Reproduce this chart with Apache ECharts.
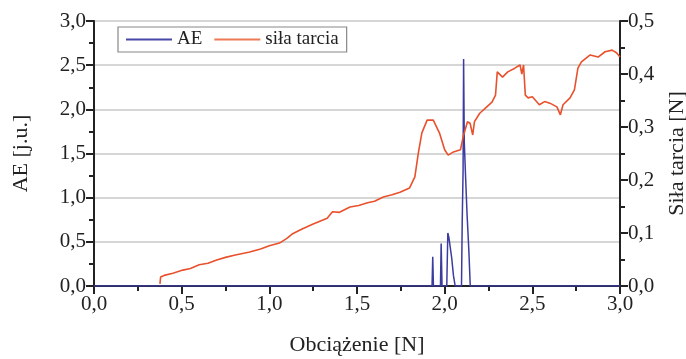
<!DOCTYPE html>
<html>
<head>
<meta charset="utf-8">
<script src="https://cdn.jsdelivr.net/npm/echarts@6/dist/echarts.min.js"></script>
<style>
  html, body { margin: 0; padding: 0; background: #fff; }
  #chart { width: 686px; height: 359px; }
</style>
</head>
<body>
<div id="chart"></div>
<script>
// AE (lewa oś) – obciążenie [N] / AE [j.u.]
const aeLoad = [0, 1.928, 1.932, 1.936, 1.976, 1.98, 1.985, 2.012, 2.018, 2.024, 2.03, 2.04, 2.05, 2.06, 2.096, 2.1, 2.105, 2.108, 2.112, 2.116, 2.12, 2.128, 2.138, 2.146, 3]
const aeValue = [0, 0, 0.33, 0, 0, 0.48, 0, 0, 0.6, 0.55, 0.57, 0.32, 0.12, 0, 0, 0.72, 1.3, 2.57, 1.62, 1.64, 1.2, 0.8, 0.4, 0, 0]

// siła tarcia (prawa oś) [N]
const frLoad = [0.376, 0.38, 0.40, 0.45, 0.507, 0.55, 0.60, 0.65, 0.70, 0.75, 0.80, 0.888, 0.95, 1.0, 1.058, 1.10, 1.13, 1.19, 1.25, 1.33, 1.36, 1.40, 1.46, 1.51, 1.56, 1.60, 1.65, 1.70, 1.745, 1.80, 1.83, 1.85, 1.87, 1.90, 1.935, 1.97, 2.0, 2.02, 2.05, 2.09, 2.105, 2.13, 2.145, 2.16, 2.17, 2.2, 2.24, 2.27, 2.29, 2.30, 2.33, 2.36, 2.40, 2.43, 2.44, 2.45, 2.46, 2.476, 2.50, 2.54, 2.57, 2.60, 2.64, 2.66, 2.675, 2.715, 2.74, 2.76, 2.78, 2.83, 2.875, 2.915, 2.955, 2.98, 3.0]
const frValue = [0.004, 0.017, 0.02, 0.024, 0.030, 0.033, 0.040, 0.043, 0.049, 0.054, 0.058, 0.064, 0.070, 0.076, 0.081, 0.090, 0.098, 0.108, 0.117, 0.128, 0.140, 0.139, 0.149, 0.152, 0.157, 0.160, 0.168, 0.172, 0.177, 0.185, 0.206, 0.251, 0.289, 0.313, 0.313, 0.289, 0.257, 0.247, 0.253, 0.257, 0.281, 0.31, 0.307, 0.285, 0.31, 0.326, 0.338, 0.347, 0.36, 0.404, 0.394, 0.404, 0.411, 0.417, 0.40, 0.417, 0.36, 0.355, 0.357, 0.342, 0.348, 0.345, 0.338, 0.323, 0.342, 0.355, 0.37, 0.411, 0.423, 0.436, 0.432, 0.442, 0.445, 0.44, 0.432]

const xTicks = [0, 0.5, 1, 1.5, 2, 2.5, 3]

const chart = echarts.init(document.getElementById('chart'))
const font = 'Liberation Serif'
const fmt1 = v => v.toFixed(1).replace('.', ',')

const axisCommon = {
  axisLine: { show: true, lineStyle: { color: '#222', width: 2 } },
  axisTick: { show: true, length: 8, lineStyle: { color: '#222', width: 2 } },
  minorTick: { show: true, splitNumber: 2, length: 5, lineStyle: { color: '#222', width: 2 } },
  axisLabel: { color: '#222', fontFamily: font, fontSize: 21, formatter: fmt1 },
  nameTextStyle: { color: '#222', fontFamily: font, fontSize: 22 },
  nameLocation: 'middle'
}

chart.setOption({
  animation: false,
  grid: { left: 94, right: 66, top: 21, bottom: 73, outerBoundsMode: 'none', containLabel: false },
  legend: {
    left: 118, top: 27,
    padding: [3, 8, 3, 8],
    itemGap: 12,
    itemWidth: 46, itemHeight: 2,
    borderColor: '#888', borderWidth: 1.2,
    textStyle: { fontFamily: font, fontSize: 19, color: '#222' },
    data: [
      { name: 'AE', icon: 'rect' },
      { name: 'siła tarcia', icon: 'rect' }
    ]
  },
  xAxis: {
    type: 'value', min: xTicks[0], max: xTicks[xTicks.length - 1], interval: 0.5,
    name: 'Obciążenie [N]', nameGap: 48,
    splitLine: { show: false },
    ...axisCommon
  },
  yAxis: [
    {
      type: 'value', min: 0, max: 3, interval: 0.5,
      name: 'AE [j.u.]', nameGap: 62,
      splitLine: { show: true, lineStyle: { color: '#c8c8c8', width: 1.5 } },
      ...axisCommon
    },
    {
      type: 'value', min: 0, max: 0.5, interval: 0.1, position: 'right',
      name: 'Siła tarcia [N]', nameGap: 46,
      splitLine: { show: false },
      ...axisCommon
    }
  ],
  series: [
    {
      name: 'AE', type: 'line', yAxisIndex: 0, showSymbol: false,
      color: '#4848a8',
      lineStyle: { width: 1.5, color: '#3c3ca0' },
      data: aeLoad.map((x, i) => [x, aeValue[i]])
    },
    {
      name: 'siła tarcia', type: 'line', yAxisIndex: 1, showSymbol: false,
      color: '#ee7a55',
      lineStyle: { width: 1.6, color: '#e8512c' },
      data: frLoad.map((x, i) => [x, frValue[i]])
    }
  ]
})
</script>
</body>
</html>
